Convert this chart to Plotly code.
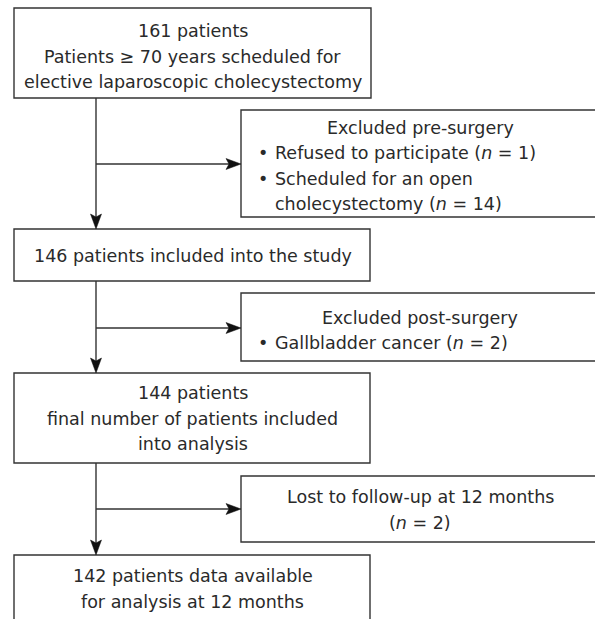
import plotly.graph_objects as go

# Flow chart content
box1_lines = ["161 patients", "Patients ≥ 70 years scheduled for", "elective laparoscopic cholecystectomy"]
box2_title = "Excluded pre-surgery"
box2_bullets = [["Refused to participate (<i>n</i> = 1)"], ["Scheduled for an open", "cholecystectomy (<i>n</i> = 14)"]]
box3_lines = ["146 patients included into the study"]
box4_title = "Excluded post-surgery"
box4_bullets = [["Gallbladder cancer (<i>n</i> = 2)"]]
box5_lines = ["144 patients", "final number of patients included", "into analysis"]
box6_lines = ["Lost to follow-up at 12 months", "(<i>n</i> = 2)"]
box7_lines = ["142 patients data available", "for analysis at 12 months"]

W, H = 595, 619
LINE = "#333333"
TXT = "#2a2a2a"
FONT = "DejaVu Sans"
FS = 17.5
LH = 25.5
LW = 1.4

fig = go.Figure()
shapes = []
ann = []

def box(x0, y0, x1, y1):
    shapes.append(dict(type="rect", x0=x0, y0=y0, x1=x1, y1=y1, xref="x", yref="y",
                       line=dict(color=LINE, width=LW), fillcolor="rgba(0,0,0,0)", layer="above"))

def text(x, y, s, anchor="center"):
    ann.append(dict(x=x, y=y, xref="x", yref="y", text=s, showarrow=False, xanchor=anchor,
                    yanchor="middle", font=dict(family=FONT, size=FS, color=TXT)))

def centered(lines, cx, y0):
    for i, s in enumerate(lines):
        text(cx, y0 + i * LH, s)

def bullets(items, bx, tx, y0):
    k = 0
    for item in items:
        for j, s in enumerate(item):
            if j == 0:
                text(bx, y0 + k * LH, "•", "center")
            text(tx, y0 + k * LH, s, "left")
            k += 1

HL, HW, NOTCH = 15, 5.5, 3  # arrowhead length, half width, notch depth

def arrow(x, y, ax, ay):
    if ax == x:  # vertical, pointing down
        shapes.append(dict(type="line", x0=ax, y0=ay, x1=x, y1=y - HL + NOTCH, xref="x", yref="y",
                           line=dict(color=LINE, width=LW)))
        p = f"M{x},{y} L{x - HW},{y - HL} L{x},{y - HL + NOTCH} L{x + HW},{y - HL} Z"
    else:  # horizontal, pointing right
        shapes.append(dict(type="line", x0=ax, y0=ay, x1=x - HL + NOTCH, y1=y, xref="x", yref="y",
                           line=dict(color=LINE, width=LW)))
        p = f"M{x},{y} L{x - HL},{y - HW} L{x - HL + NOTCH},{y} L{x - HL},{y + HW} Z"
    shapes.append(dict(type="path", path=p, xref="x", yref="y", fillcolor="#111111",
                       line=dict(color="#111111", width=0.5)))

LX0, LX1 = 14, 371
RX0, RX1 = 241, 620
CX = (LX0 + LX1) / 2
RCX = 420
SX = 96

box(LX0, 8, LX1, 98)
centered(box1_lines, CX, 31)

box(RX0, 110, RX1, 217)
text(RCX, 128, box2_title)
bullets(box2_bullets, 263, 273, 153)

box(LX0, 229, 370, 281)
centered(box3_lines, CX, 256)

box(RX0, 293, RX1, 361)
text(RCX, 318, box4_title)
bullets(box4_bullets, 263, 273, 343)

box(LX0, 373, 370, 463)
centered(box5_lines, CX, 393)

box(RX0, 476, RX1, 542)
centered(box6_lines, 420, 497)

box(LX0, 555, 370, 660)
centered(box7_lines, CX, 576)

# vertical arrows
arrow(SX, 229, SX, 98)
arrow(SX, 373, SX, 281)
arrow(SX, 555, SX, 463)
# horizontal branches
arrow(RX0, 164, SX, 164)
arrow(RX0, 328, SX, 328)
arrow(RX0, 509, SX, 509)

fig.update_layout(width=W, height=H, margin=dict(l=0, r=0, t=0, b=0),
                  paper_bgcolor="white", plot_bgcolor="white",
                  shapes=shapes, annotations=ann, showlegend=False)
fig.update_xaxes(range=[0, W], visible=False, fixedrange=True)
fig.update_yaxes(range=[H, 0], visible=False, fixedrange=True)
fig.write_html("out.html", config={"displayModeBar": False},
               post_script="document.body.style.margin='0';document.body.style.overflow='hidden';")
